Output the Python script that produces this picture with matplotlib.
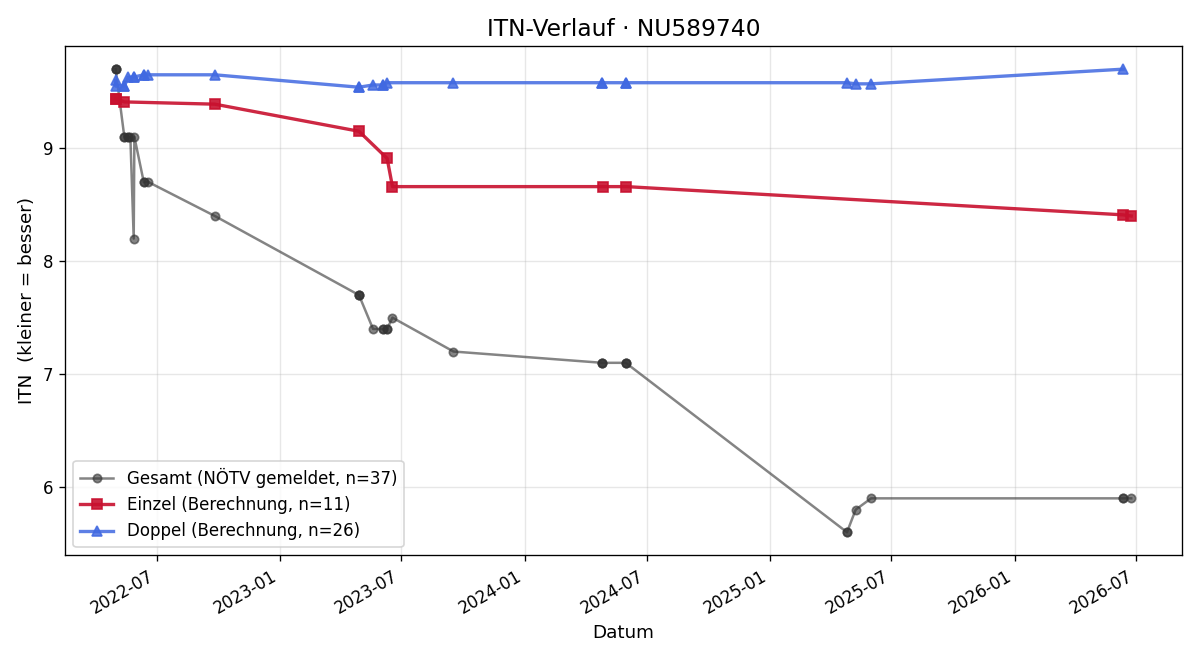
import numpy as np
import pandas as pd
import matplotlib
matplotlib.use("Agg")
import matplotlib.pyplot as plt
import matplotlib.dates as mdates

# Gesamt (reported), 37 records incl. same-day duplicates
gesamt_dates = (["2022-05-01"] * 3 + ["2022-05-14"] * 2 + ["2022-05-19"] * 2 + ["2022-05-23", "2022-05-28", "2022-05-29"]
                + ["2022-06-12"] * 2 + ["2022-06-19", "2022-09-26"] + ["2023-04-29"] * 3 + ["2023-05-20"]
                + ["2023-06-04"] * 2 + ["2023-06-10"] * 2 + ["2023-06-18", "2023-09-17"]
                + ["2024-04-26"] * 3 + ["2024-05-31"] * 3 + ["2025-04-26"] * 2 + ["2025-05-09", "2025-06-01"]
                + ["2026-06-12"] * 2 + ["2026-06-24"])
gesamt_vals = ([9.7] * 3 + [9.1] * 2 + [9.1] * 2 + [9.1, 8.2, 9.1]
               + [8.7] * 2 + [8.7, 8.4] + [7.7] * 3 + [7.4]
               + [7.4] * 2 + [7.4] * 2 + [7.5, 7.2]
               + [7.1] * 3 + [7.1] * 3 + [5.6] * 2 + [5.8, 5.9]
               + [5.9] * 2 + [5.9])

einzel_dates = ["2022-05-01", "2022-05-01", "2022-05-14", "2022-09-26", "2023-04-29", "2023-06-10",
                "2023-06-18", "2024-04-27", "2024-06-01", "2026-06-12", "2026-06-24"]
einzel_vals = [9.44, 9.44, 9.41, 9.39, 9.15, 8.91, 8.66, 8.66, 8.66, 8.41, 8.40]

doppel_dates = (["2022-05-01", "2022-05-01"] + ["2022-05-14"] * 2 + ["2022-05-20"] + ["2022-05-28"] * 2
                + ["2022-06-12"] * 2 + ["2022-06-19", "2022-09-26"] + ["2023-04-29"] * 2 + ["2023-05-20"]
                + ["2023-06-04"] * 2 + ["2023-06-10", "2023-09-17"] + ["2024-04-26"] * 2 + ["2024-05-31"] * 2
                + ["2025-04-26", "2025-05-09", "2025-06-01", "2026-06-12"])
doppel_vals = ([9.60, 9.55] + [9.55] * 2 + [9.63] + [9.63] * 2
               + [9.65] * 2 + [9.65, 9.65] + [9.54] * 2 + [9.56]
               + [9.56] * 2 + [9.58, 9.58] + [9.58] * 2 + [9.58] * 2
               + [9.58, 9.57, 9.57, 9.70])

fig, ax = plt.subplots(figsize=(10, 5.5), dpi=120)
ax.plot(pd.to_datetime(gesamt_dates), gesamt_vals, marker="o", ms=5, lw=1.5, color="0.2", alpha=0.6,
        label=f"Gesamt (NÖTV gemeldet, n={len(gesamt_vals)})")
ax.plot(pd.to_datetime(einzel_dates), einzel_vals, marker="s", ms=6, lw=2, color="#c8102e", alpha=0.9,
        label=f"Einzel (Berechnung, n={len(einzel_vals)})")
ax.plot(pd.to_datetime(doppel_dates), doppel_vals, marker="^", ms=6, lw=2, color="#4169e1", alpha=0.85,
        label=f"Doppel (Berechnung, n={len(doppel_vals)})")

ax.set_title("ITN-Verlauf · NU589740", fontsize=14)
ax.set_xlabel("Datum", fontsize=11)
ax.set_ylabel("ITN  (kleiner = besser)", fontsize=11)
ax.grid(True, alpha=0.3)
ax.xaxis.set_major_locator(mdates.MonthLocator(bymonth=[1, 7]))
ax.xaxis.set_major_formatter(mdates.DateFormatter("%Y-%m"))
ax.legend(loc="lower left", fontsize=10)
fig.autofmt_xdate()
fig.tight_layout()
fig.savefig("out.png")
